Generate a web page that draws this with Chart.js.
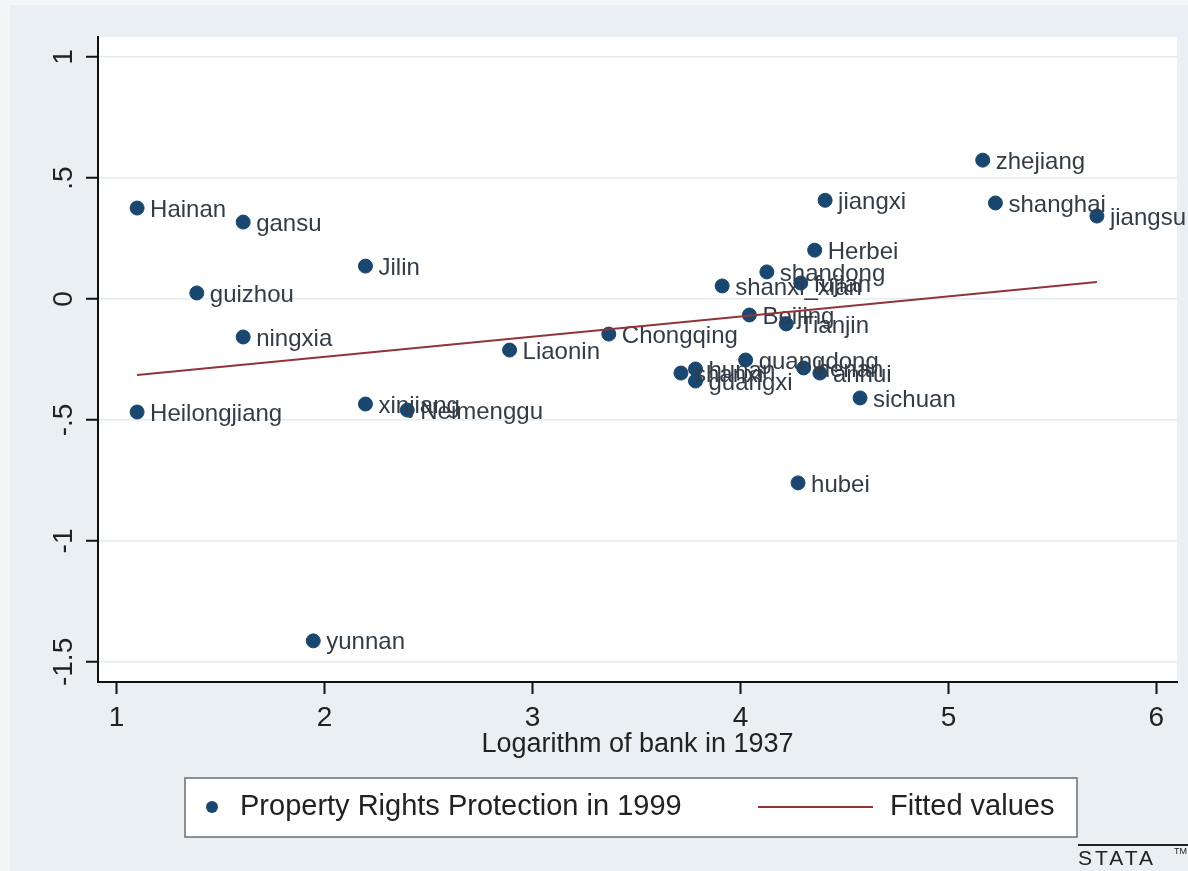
<!DOCTYPE html>
<html>
<head>
<meta charset="utf-8">
<script src="https://cdn.jsdelivr.net/npm/chart.js@4.4.1/dist/chart.umd.min.js"></script>
<style>
html, body { margin: 0; padding: 0; background: #fff; }
#wrap { width: 1188px; height: 871px; }
</style>
</head>
<body>
<div id="wrap"><canvas id="bankChart" width="1188" height="871"></canvas></div>
<script>
// provinces, log(bank in 1937) and property rights index (1999)
const provinces = ['Hainan', 'gansu', 'Jilin', 'guizhou', 'ningxia', 'Heilongjiang', 'xinjiang', 'Neimenggu',
  'yunnan', 'Liaonin', 'Chongqing', 'shanxi', 'hunan', 'guangxi', 'guangdong', 'Beijing', 'Tianjin',
  'shanxi_xian', 'shandong', 'fujian', 'Herbei', 'jiangxi', 'henan', 'anhui', 'sichuan', 'hubei',
  'zhejiang', 'shanghai', 'jiangsu'];
const logBank = [1.099, 1.609, 2.197, 1.386, 1.609, 1.099, 2.197, 2.398,
  1.946, 2.890, 3.367, 3.714, 3.784, 3.784, 4.025, 4.043, 4.220,
  3.912, 4.127, 4.290, 4.357, 4.407, 4.304, 4.382, 4.575, 4.277,
  5.165, 5.226, 5.714];
const propRights = [0.376, 0.318, 0.136, 0.025, -0.157, -0.467, -0.434, -0.459,
  -1.413, -0.211, -0.145, -0.306, -0.289, -0.339, -0.252, -0.066, -0.103,
  0.054, 0.112, 0.066, 0.202, 0.408, -0.285, -0.306, -0.409, -0.760,
  0.574, 0.397, 0.343];
const fitX = [1.099, 5.714];
const fitY = [-0.314, 0.070];
const xTicks = [1, 2, 3, 4, 5, 6];
const yTicks = [1, 0.5, 0, -0.5, -1, -1.5];
const yTickLabels = ['1', '.5', '0', '-.5', '-1', '-1.5'];

const navy = '#1a476f';
const maroon = '#90353b';
const fontFam = "'Liberation Sans', Arial, sans-serif";

const background = {
  id: 'background',
  beforeDraw(chart) {
    const ctx = chart.ctx, a = chart.chartArea;
    ctx.save();
    ctx.fillStyle = '#f3f6f7';
    ctx.fillRect(0, 0, chart.width, chart.height);
    ctx.fillStyle = '#e9eff2';
    ctx.fillRect(10, 5, chart.width - 10, chart.height - 5);
    ctx.fillStyle = '#fff';
    ctx.fillRect(a.left, a.top, a.right - a.left, a.bottom - a.top);
    ctx.restore();
  }
};

// names next to the markers, drawn before the fitted line goes on top
const pointNames = {
  id: 'pointNames',
  afterDatasetDraw(chart, args) {
    if (args.index !== 0) return;
    const ctx = chart.ctx;
    ctx.save();
    ctx.font = '24px ' + fontFam;
    ctx.fillStyle = '#333c46';
    ctx.textBaseline = 'middle';
    args.meta.data.forEach((el, i) => {
      ctx.fillText(provinces[i], el.x + 13, el.y + 2);
    });
    ctx.restore();
  }
};

const stataLegend = {
  id: 'stataLegend',
  afterDraw(chart) {
    const ctx = chart.ctx;
    const ds = chart.data.datasets;
    ctx.save();
    ctx.fillStyle = '#fff';
    ctx.fillRect(185, 778, 892, 59);
    ctx.strokeStyle = '#6e6e6e';
    ctx.lineWidth = 1.5;
    ctx.strokeRect(185, 778, 892, 59);
    const cy = 807;
    ctx.fillStyle = ds[0].backgroundColor;
    ctx.beginPath();
    ctx.arc(212, cy, 6, 0, Math.PI * 2);
    ctx.fill();
    ctx.font = '29px ' + fontFam;
    ctx.fillStyle = '#222';
    ctx.textBaseline = 'middle';
    ctx.fillText(ds[0].label, 240, cy);
    ctx.strokeStyle = ds[1].borderColor;
    ctx.lineWidth = 2;
    ctx.beginPath();
    ctx.moveTo(758, cy);
    ctx.lineTo(873, cy);
    ctx.stroke();
    ctx.fillText(ds[1].label, 890, cy);

    // stata mark
    ctx.strokeStyle = '#222';
    ctx.lineWidth = 2;
    ctx.beginPath();
    ctx.moveTo(1078, 845);
    ctx.lineTo(1188, 845);
    ctx.stroke();
    ctx.font = '21px ' + fontFam;
    ctx.letterSpacing = '3px';
    ctx.fillStyle = '#222';
    ctx.fillText('STATA', 1078, 859);
    ctx.letterSpacing = '0px';
    ctx.font = '9px ' + fontFam;
    ctx.fillText('TM', 1174, 852);
    ctx.restore();
  }
};

const ctx = document.getElementById('bankChart').getContext('2d');
new Chart(ctx, {
  type: 'scatter',
  data: {
    datasets: [{
      label: 'Property Rights Protection in 1999',
      data: logBank.map((x, i) => ({x: x, y: propRights[i]})),
      backgroundColor: navy,
      borderColor: navy,
      pointRadius: 7,
      order: 1
    }, {
      type: 'line',
      label: 'Fitted values',
      data: fitX.map((x, i) => ({x: x, y: fitY[i]})),
      borderColor: maroon,
      borderWidth: 2,
      pointRadius: 0,
      fill: false,
      order: 0
    }]
  },
  options: {
    responsive: false,
    animation: false,
    events: [],
    devicePixelRatio: 1,
    layout: { padding: { left: 0, top: 37, right: 11, bottom: 110 } },
    plugins: {
      legend: { display: false },
      tooltip: { enabled: false }
    },
    scales: {
      x: {
        type: 'linear',
        position: 'bottom',
        min: 0.911,
        max: 6.099,
        afterBuildTicks: s => { s.ticks = xTicks.map(v => ({value: v})); },
        afterFit: s => { s.height = 79; },
        ticks: {
          autoSkip: false,
          maxRotation: 0,
          padding: 7,
          color: '#222',
          font: { family: fontFam, size: 28 },
          callback: v => String(v)
        },
        grid: {
          drawOnChartArea: false,
          tickColor: '#111',
          tickLength: 12,
          tickWidth: 2
        },
        border: { display: true, color: '#111', width: 2 },
        title: {
          display: true,
          text: 'Logarithm of bank in 1937',
          color: '#222',
          font: { family: fontFam, size: 27 },
          padding: { top: 0, bottom: 0 }
        }
      },
      y: {
        type: 'linear',
        min: -1.583,
        max: 1.083,
        afterBuildTicks: s => { s.ticks = yTicks.map(v => ({value: v})); },
        afterFit: s => { s.width = 98; },
        ticks: {
          autoSkip: false,
          minRotation: 90,
          maxRotation: 90,
          crossAlign: 'center',
          padding: -2,
          color: '#222',
          font: { family: fontFam, size: 28 },
          callback: v => yTickLabels[yTicks.indexOf(v)]
        },
        grid: {
          color: '#e6ecef',
          lineWidth: 1.5,
          tickColor: '#111',
          tickLength: 12,
          tickWidth: 2
        },
        border: { display: true, color: '#111', width: 2 }
      }
    }
  },
  plugins: [background, pointNames, stataLegend]
});
</script>
</body>
</html>
